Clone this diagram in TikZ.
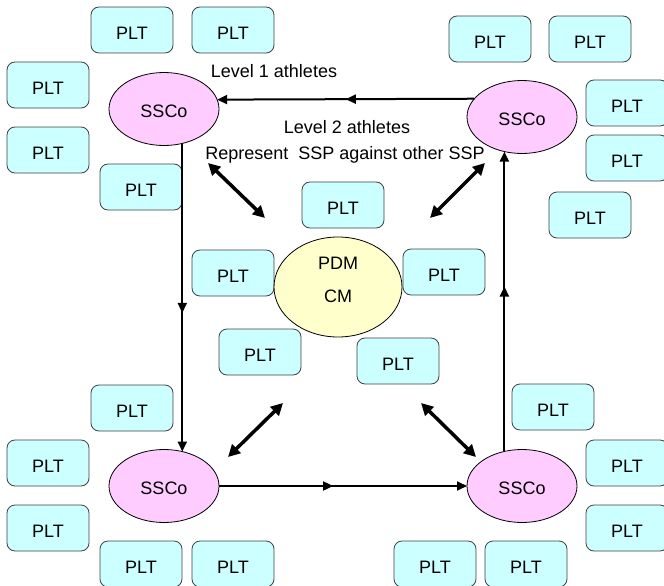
\documentclass[tikz,border=0pt]{standalone}
\usepackage{fontspec}
\setmainfont{Liberation Sans}
\usetikzlibrary{arrows.meta,shapes.geometric,decorations.markings}
\definecolor{pltfill}{HTML}{CCFFFF}
\definecolor{sscofill}{HTML}{FFCCFF}
\definecolor{pdmfill}{HTML}{FFFFCC}
\definecolor{pltedge}{HTML}{404040}
\begin{document}
\begin{tikzpicture}[x=1pt,y=-1pt,
  every node/.style={font=\fontsize{18}{20}\selectfont},
  pltbox/.style={draw=pltedge,fill=pltfill,rounded corners=8pt,minimum width=82pt,minimum height=46pt,inner sep=0pt,outer sep=0pt,line width=0.8pt,text height=19pt,text depth=0pt},
  sscobox/.style={ellipse,draw=black,fill=sscofill,minimum width=110pt,minimum height=73pt,inner sep=0pt,outer sep=0pt,line width=0.8pt,text height=17pt,text depth=0pt},
  pdmbox/.style={ellipse,draw=black,fill=pdmfill,minimum width=128pt,minimum height=100pt,inner sep=0pt,outer sep=0pt,line width=0.8pt},
  flow/.style={line width=2pt,-{Triangle[length=10pt,width=9pt]}},
  midarrow/.style={postaction={decorate},decoration={markings,mark=at position #1 with {\arrow{Triangle[length=10pt,width=9pt]}}}},
  dbl/.style={line width=3.5pt,{Triangle[length=12pt,width=12pt]}-{Triangle[length=12pt,width=12pt]}},
  lbl/.style={inner sep=0pt}]
\useasboundingbox (0,0) rectangle (664,586);
% PLT boxes
\node[pltbox] (p1) at (132,30) {PLT};
\node[pltbox] (p2) at (233,30) {PLT};
\node[pltbox] (p3) at (48,85) {PLT};
\node[pltbox] (p4) at (48,150) {PLT};
\node[pltbox] (p5) at (141,187) {PLT};
\node[pltbox] (p6) at (490,39) {PLT};
\node[pltbox] (p7) at (590,39) {PLT};
\node[pltbox] (p8) at (627,103) {PLT};
\node[pltbox] (p9) at (627,158) {PLT};
\node[pltbox] (p10) at (590,215) {PLT};
\node[pltbox] (p11) at (343,205) {PLT};
\node[pltbox] (p12) at (233,273) {PLT};
\node[pltbox] (p13) at (444,272) {PLT};
\node[pltbox] (p14) at (260,352) {PLT};
\node[pltbox] (p15) at (398,361) {PLT};
\node[pltbox] (p16) at (132,408) {PLT};
\node[pltbox] (p17) at (553,407) {PLT};
\node[pltbox] (p18) at (48,463) {PLT};
\node[pltbox] (p19) at (48,528) {PLT};
\node[pltbox] (p20) at (627,463) {PLT};
\node[pltbox] (p21) at (627,528) {PLT};
\node[pltbox] (p22) at (141,564) {PLT};
\node[pltbox] (p23) at (233,564) {PLT};
\node[pltbox] (p24) at (435,564) {PLT};
\node[pltbox] (p25) at (526,564) {PLT};
% ellipses
\node[sscobox] (sTL) at (164,109) {SSCo};
\node[sscobox] (sTR) at (522,117) {SSCo};
\node[sscobox] (sBL) at (164,486) {SSCo};
\node[sscobox] (sBR) at (522,486) {SSCo};
\node[pdmbox] (pdm) at (338,287) {};
\node[lbl,align=center] (pdmtext) at (338,280) {PDM\\[13pt]CM};
% labels
\node[lbl] (t1) at (274,71) {Level 1 athletes};
\node[lbl] (t2) at (347,127) {Level 2 athletes};
\node[lbl] (t3) at (345,155) {Represent\ \ SSP against other SSP};
% flow connectors
\draw[flow,midarrow=0.5] (sTR.159.4) -- (sTL.10.7);
\draw[flow,midarrow=0.55] (sTL.-62.1) -- (sBL.62.6);
\draw[flow,midarrow=0.46] (sBL.east) -- (sBR.west);
\draw[flow,midarrow=0.55] (sBR.117.4) -- (sTR.-117.4);
% double arrows
\coordinate (dTLa) at (208,163);
\coordinate (dTLb) at (265,218);
\coordinate (dTRa) at (485,163);
\coordinate (dTRb) at (430,218);
\coordinate (dBLa) at (228,457);
\coordinate (dBLb) at (283,403);
\coordinate (dBRa) at (421,403);
\coordinate (dBRb) at (476,457);
\draw[dbl] (dTLa) -- (dTLb);
\draw[dbl] (dTRa) -- (dTRb);
\draw[dbl] (dBLa) -- (dBLb);
\draw[dbl] (dBRa) -- (dBRb);
\end{tikzpicture}
\end{document}
